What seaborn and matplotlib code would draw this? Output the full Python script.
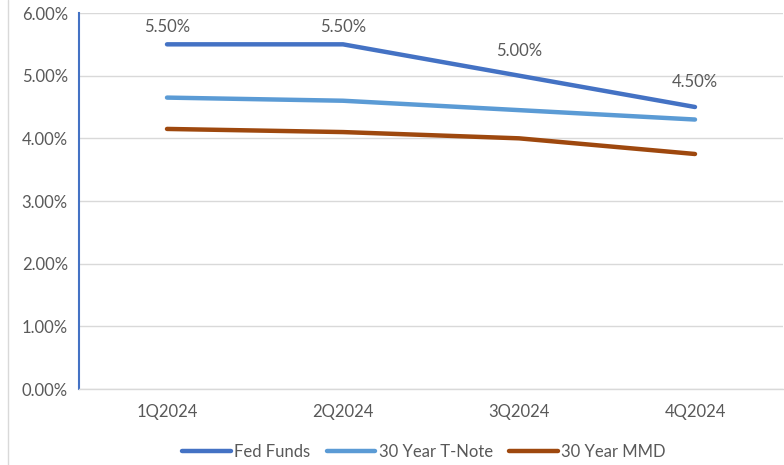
import pandas as pd
import matplotlib.pyplot as plt
import seaborn as sns
from matplotlib.lines import Line2D
from matplotlib.ticker import FuncFormatter

# === Data ===
quarters = ["1Q2024", "2Q2024", "3Q2024", "4Q2024"]
fed_funds = [5.50, 5.50, 5.00, 4.50]
t_note_30y = [4.65, 4.60, 4.45, 4.30]
mmd_30y = [4.15, 4.10, 4.00, 3.75]

series = {"Fed Funds": fed_funds, "30 Year T-Note": t_note_30y, "30 Year MMD": mmd_30y}
df = pd.DataFrame(
    [(q, name, v) for name, vals in series.items() for q, v in zip(quarters, vals)],
    columns=["Quarter", "Series", "Rate"],
)

palette = {"Fed Funds": "#4472C4", "30 Year T-Note": "#5B9BD5", "30 Year MMD": "#9E480E"}
text_color = "#595959"

sns.set_style("white")
plt.rcParams["font.family"] = ["Lato", "DejaVu Sans"]

fig = plt.figure(figsize=(7.84, 4.65), dpi=100)
ax = fig.add_axes([79 / 784, 76 / 465, 704 / 784, 376 / 465])

sns.lineplot(data=df, x="Quarter", y="Rate", hue="Series", palette=palette,
             linewidth=3.2, sort=False, ax=ax, legend=False)
for line in ax.get_lines():
    line.set_solid_capstyle("round")

# data labels on Fed Funds (kept inside the plot area like Excel does)
for i, v in enumerate(fed_funds):
    ax.text(i, min(v + 0.40, 5.78), f"{v:.2f}%", ha="center", va="center",
            fontsize=12, color=text_color)

ax.set_xlim(-0.5, 3.5)
ax.set_ylim(0, 6)
ax.set_yticks([0, 1, 2, 3, 4, 5, 6])
ax.yaxis.set_major_formatter(FuncFormatter(lambda v, p: f"{v:.2f}%"))
ax.grid(axis="y", color="#D9D9D9", linewidth=1)
ax.set_axisbelow(True)
ax.set_xlabel("")
ax.set_ylabel("")
ax.tick_params(axis="both", length=0, labelsize=12, labelcolor=text_color)
ax.tick_params(axis="x", pad=11)
ax.tick_params(axis="y", pad=8)

for side in ["top", "right"]:
    ax.spines[side].set_visible(False)
ax.spines["left"].set_color("#4472C4")
ax.spines["left"].set_linewidth(1.5)
ax.spines["bottom"].set_color("#D9D9D9")
ax.spines["bottom"].set_linewidth(1)

# chart frame edge on the left
fig.add_artist(Line2D([7.5 / 784, 7.5 / 784], [0, 1], color="#D9D9D9", linewidth=1))

handles = [Line2D([0], [0], color=palette[n], linewidth=3.2, solid_capstyle="round") for n in series]
fig.legend(handles, list(series), loc="center", bbox_to_anchor=(424 / 784, 1 - 452 / 465),
           ncol=3, frameon=False, fontsize=12, handlelength=2.9, handletextpad=0.2,
           columnspacing=1.0, labelcolor=text_color)

fig.savefig("out.png", dpi=100)
